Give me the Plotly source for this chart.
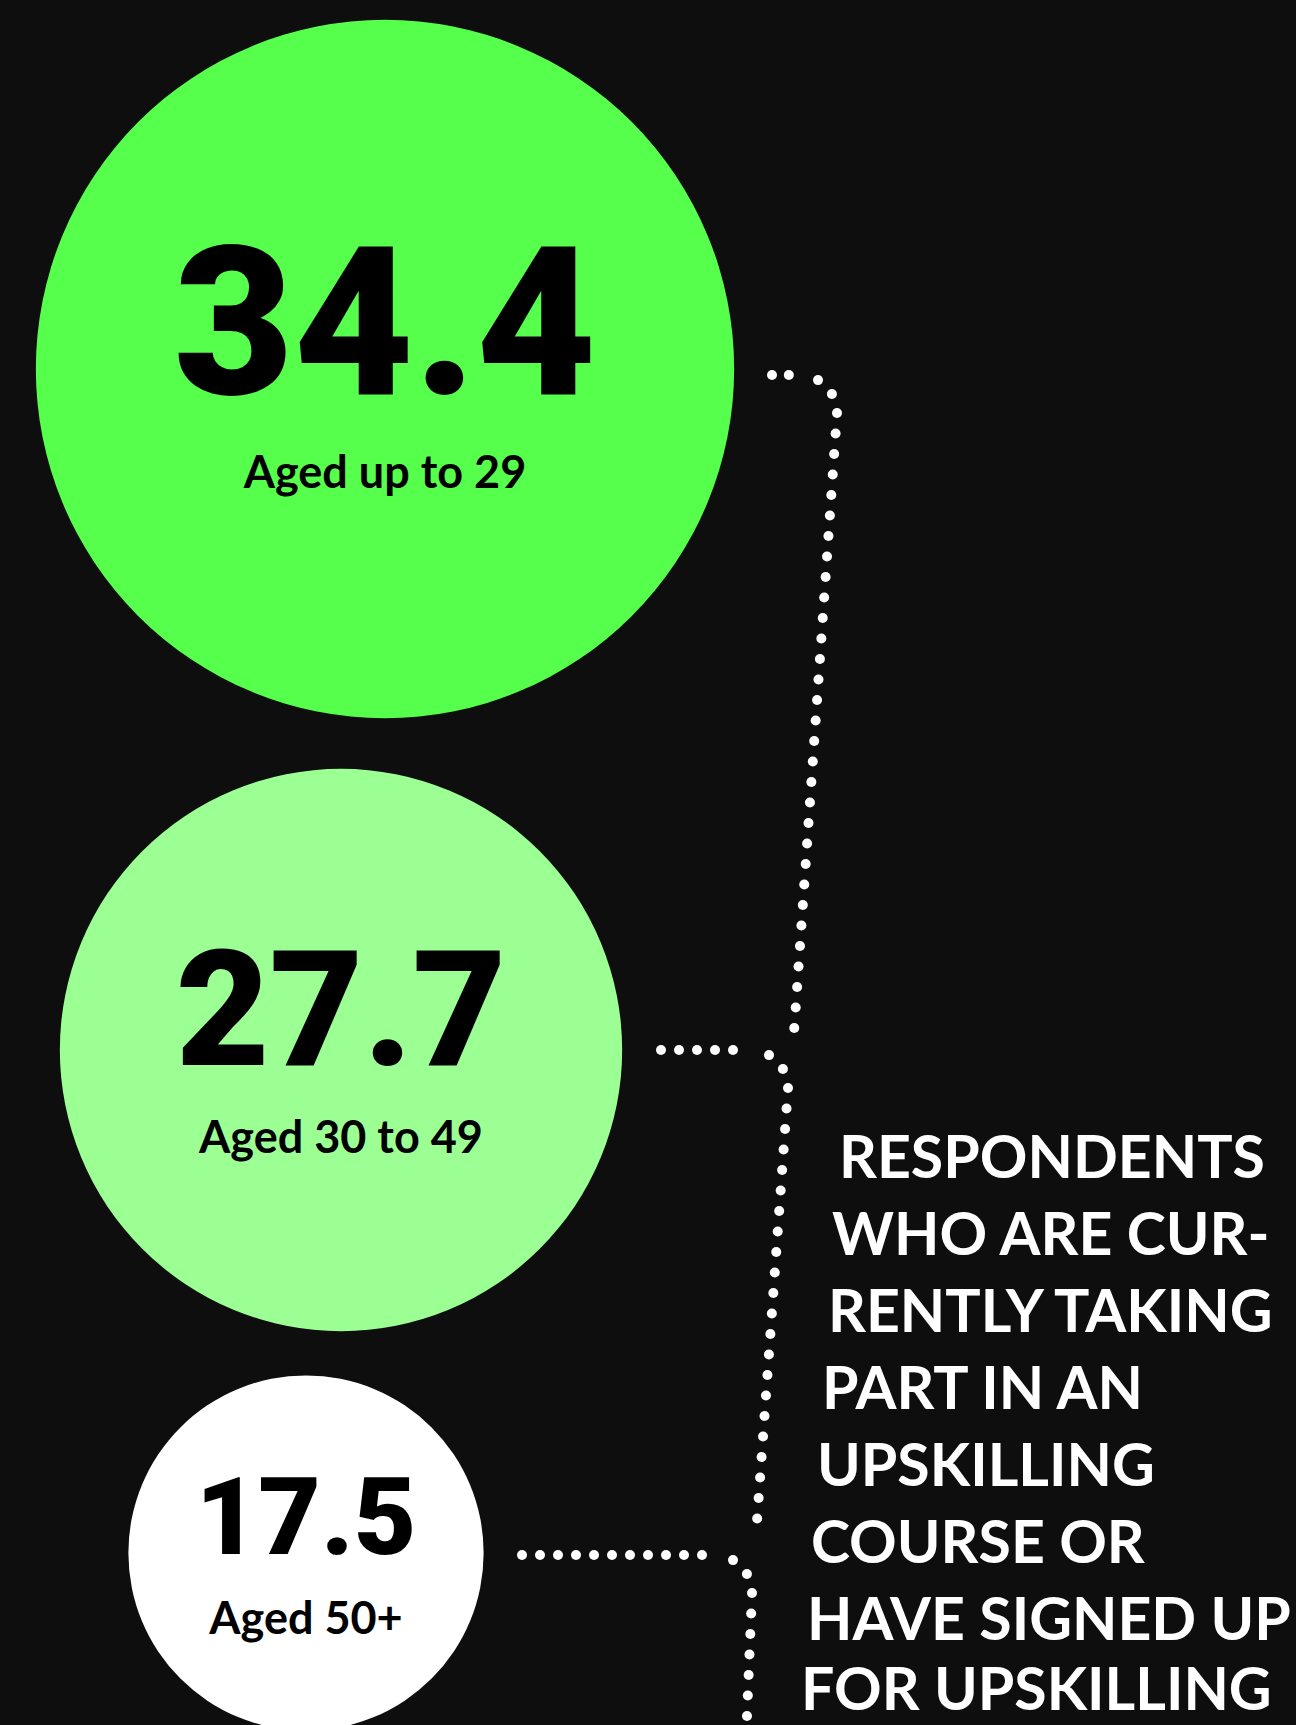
import numpy as np
import plotly.graph_objects as go

# ---- data ----
categories = ["Aged up to 29", "Aged 30 to 49", "Aged 50+"]
values = [34.4, 27.7, 17.5]
value_labels = ["34.4", "27.7", "17.5"]
circle_colors = ["#55FF4B", "#9CFF94", "#FFFFFF"]
caption_lines = [
    "RESPONDENTS",
    "WHO ARE CUR-",
    "RENTLY TAKING",
    "PART IN AN",
    "UPSKILLING",
    "COURSE OR",
    "HAVE SIGNED UP",
    "FOR UPSKILLING",
]

# ---- layout constants ----
W, H = 1296, 1725
BG = "#0E0E0E"
cx = [385, 341, 306]
cy = [369, 1050, 1553]
r_per_unit = 10.15
num_size = [207, 162, 108]
num_dy = [-27, -26, -26]
lab_dy = [108, 92, 70]
lab_size = 45

fig = go.Figure()

# circles
shapes = []
for v, x, y, c in zip(values, cx, cy, circle_colors):
    r = v * r_per_unit
    shapes.append(dict(type="circle", xref="x", yref="y", x0=x - r, x1=x + r,
                       y0=y - r, y1=y + r, fillcolor=c, line=dict(width=0), layer="below"))

# dotted connectors (horizontal run, rounded corner, near-vertical run)
def connector(x0, y0, xc, ye, xe, rad, step_h, step_v):
    pts = []
    n = int((xc - rad - x0) / step_h) + 1
    for i in range(n):
        pts.append((x0 + i * step_h, y0))
    for t in np.linspace(0, np.pi / 2, 4)[1:3]:
        pts.append((xc - rad + rad * np.sin(t), y0 + rad - rad * np.cos(t)))
    ys = y0 + rad
    n = int((ye - ys) / step_v) + 1
    for i in range(n):
        f = i * step_v / (ye - ys)
        pts.append((xc + (xe - xc) * f, ys + i * step_v))
    return pts

conns = [
    connector(772, 375, 837, 1032, 794, 38, 16.8, 20.5),
    connector(661, 1050, 788, 1535, 756, 38, 18.0, 20.5),
    connector(522, 1555, 752, 1740, 746, 38, 18.0, 20.5),
]
for pts in conns:
    xs, ys = zip(*pts)
    fig.add_trace(go.Scatter(x=xs, y=ys, mode="markers",
                             marker=dict(size=10, color="white", line=dict(width=0)),
                             hoverinfo="skip", showlegend=False))

# numbers and labels
fig.add_trace(go.Scatter(
    x=cx, y=[c + d for c, d in zip(cy, num_dy)], mode="text", text=value_labels,
    textposition="middle center",
    textfont=dict(family="Roboto", size=num_size, color="black", weight=900),
    hoverinfo="skip", showlegend=False))
fig.add_trace(go.Scatter(
    x=cx, y=[c + d for c, d in zip(cy, lab_dy)], mode="text", text=categories,
    textposition="middle center",
    textfont=dict(family="Lato", size=lab_size, color="black", weight=700),
    hoverinfo="skip", showlegend=False))

# caption lines
cap_x = [838, 831, 827, 821, 816, 810, 806, 800]
cap_y = [1155, 1232, 1309, 1386, 1463, 1540, 1617, 1687]
annotations = []
for t, x, y in zip(caption_lines, cap_x, cap_y):
    annotations.append(dict(x=x, y=y, xref="x", yref="y", text=t, showarrow=False,
                            xanchor="left", yanchor="middle", borderpad=0,
                            font=dict(family="Lato", size=59, color="white", weight=700)))

fig.update_layout(
    width=W, height=H, margin=dict(l=0, r=0, t=0, b=0),
    paper_bgcolor=BG, plot_bgcolor=BG,
    xaxis=dict(range=[0, W], visible=False, fixedrange=True),
    yaxis=dict(range=[H, 0], visible=False, fixedrange=True),
    shapes=shapes, annotations=annotations, showlegend=False,
)
fig.write_html("out.html", config={"displayModeBar": False},
               post_script="document.body.style.margin='0';document.body.style.background='#0E0E0E';")
